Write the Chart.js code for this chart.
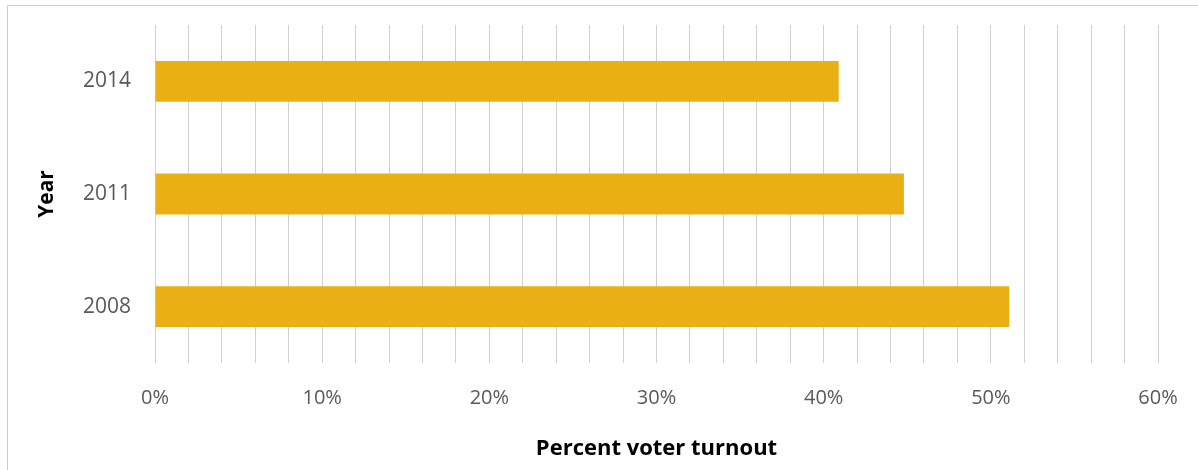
<!DOCTYPE html>
<html>
<head>
<meta charset="utf-8">
<script src="https://cdn.jsdelivr.net/npm/chart.js@4"></script>
<style>
html,body{margin:0;padding:0;background:#fff;}
#wrap{position:relative;width:1198px;height:470px;overflow:hidden;}
#frame{position:absolute;left:7px;top:5px;width:1300px;height:520px;border:1px solid #cfcfcf;box-sizing:border-box;}
canvas{position:absolute;left:0;top:0;}
</style>
</head>
<body>
<div id="wrap">
<div id="frame"></div>
<canvas id="c" width="1198" height="470"></canvas>
</div>
<script>
const categories = ['2014', '2011', '2008'];
const turnout = [40.9, 44.8, 51.1];
const xTickLabels = ['0%', '10%', '20%', '30%', '40%', '50%', '60%'];

const FONT = "'Open Sans', 'Liberation Sans', sans-serif";

new Chart(document.getElementById('c'), {
  type: 'bar',
  data: {
    labels: categories,
    datasets: [{
      data: turnout,
      backgroundColor: '#E9AF14',
      borderWidth: 0,
      categoryPercentage: 1,
      barPercentage: 0.363
    }]
  },
  options: {
    indexAxis: 'y',
    responsive: false,
    animation: false,
    layout: { padding: { left: 30, top: 25, right: 40, bottom: 0 } },
    plugins: { legend: { display: false }, tooltip: { enabled: false } },
    scales: {
      x: {
        min: 0, max: 60,
        ticks: {
          stepSize: 2,
          autoSkip: false,
          maxRotation: 0,
          color: '#595959',
          font: { family: FONT, size: 20 },
          padding: 23,
          callback: (v) => (v % 10 === 0 ? xTickLabels[v / 10] : '')
        },
        grid: { color: '#d0d0d0', lineWidth: 1, drawTicks: false },
        border: { display: false },
        title: {
          display: true,
          text: 'Percent voter turnout',
          color: '#000',
          font: { family: FONT, size: 22, weight: 'bold' },
          padding: { top: 2, bottom: 8 }
        },
        afterFit: (s) => { s.height = 107; s.paddingLeft = 0; s.paddingRight = 0; }
      },
      y: {
        ticks: {
          color: '#595959',
          font: { family: FONT, size: 21 },
          padding: 24
        },
        grid: { display: false, drawTicks: false },
        border: { display: false },
        title: {
          display: true,
          text: 'Year',
          color: '#000',
          font: { family: FONT, size: 21, weight: 'bold' },
          padding: { top: 4, bottom: 4 }
        },
        afterFit: (s) => { s.width = 125; s.paddingTop = 0; s.paddingBottom = 0; }
      }
    }
  }
});
</script>
</body>
</html>
